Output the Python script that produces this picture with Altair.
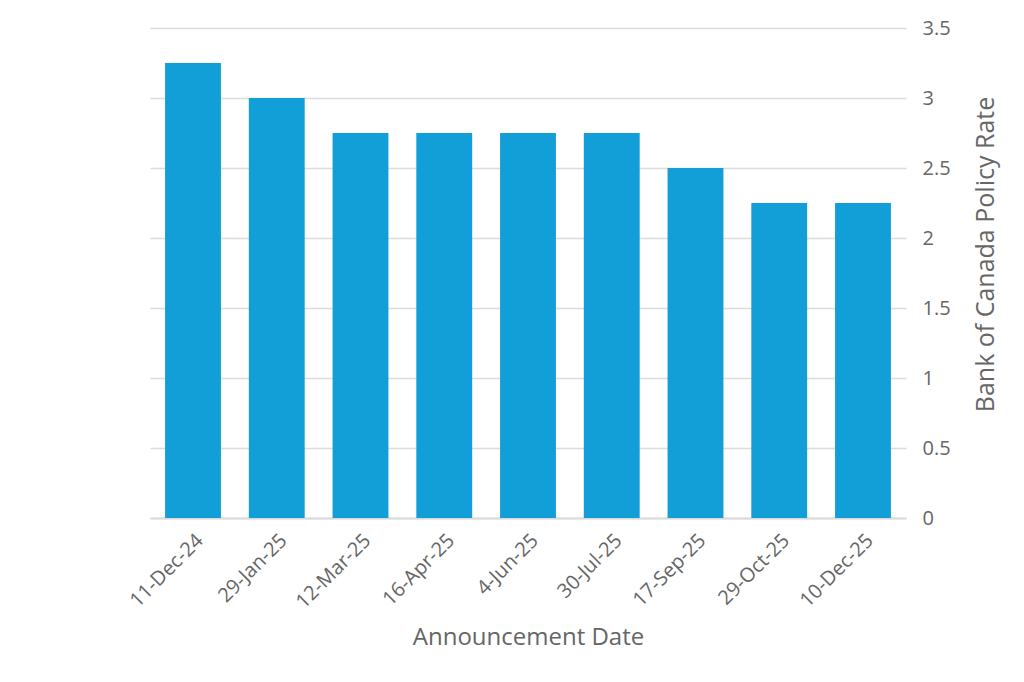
import altair as alt
import pandas as pd

dates = ["11-Dec-24", "29-Jan-25", "12-Mar-25", "16-Apr-25", "4-Jun-25",
         "30-Jul-25", "17-Sep-25", "29-Oct-25", "10-Dec-25"]
rates = [3.25, 3.0, 2.75, 2.75, 2.75, 2.75, 2.5, 2.25, 2.25]

df = pd.DataFrame({"date": dates, "rate": rates})

FONT = "Open Sans"
GRAY = "#666666"

chart = alt.Chart(df).mark_bar(color="#129ED7").encode(
    x=alt.X("date:N", sort=dates, title="Announcement Date",
            scale=alt.Scale(paddingInner=0.333, paddingOuter=0.18),
            axis=alt.Axis(labelAngle=315, labelFontSize=20, labelColor=GRAY,
                          labelFont=FONT, titleFont=FONT, titleFontSize=24,
                          titleColor=GRAY, titleFontWeight="normal",
                          ticks=False, domainColor="#d9d9d9", domainWidth=2,
                          labelPadding=12, titlePadding=14)),
    y=alt.Y("rate:Q", title="Bank of Canada Policy Rate",
            scale=alt.Scale(domain=[0, 3.5]),
            axis=alt.Axis(orient="right", values=[0, 0.5, 1, 1.5, 2, 2.5, 3, 3.5],
                          format="~g",
                          labelFontSize=20, labelColor=GRAY, labelFont=FONT,
                          titleFont=FONT, titleFontSize=25, titleColor=GRAY,
                          titleFontWeight="normal", titleAngle=270,
                          titleY=226,
                          domain=False, ticks=False, labelPadding=16,
                          gridColor="#dcdcdc", gridWidth=1.5, titlePadding=48)),
).properties(
    width=756, height=490,
    autosize=alt.AutoSizeParams(type="none"),
    padding={"left": 142, "top": 20, "right": 110, "bottom": 150},
).configure_view(stroke=None)

chart.save("out.html", embed_options={"renderer": "svg", "actions": False})
